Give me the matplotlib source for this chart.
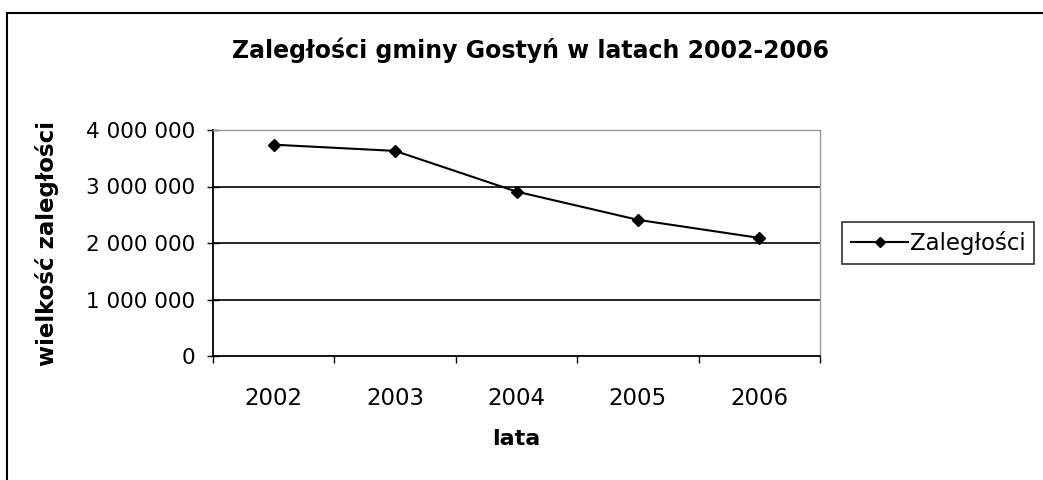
import matplotlib
matplotlib.use("Agg")
import matplotlib.pyplot as plt
import matplotlib.patches as patches
from matplotlib.ticker import FuncFormatter

# data
years = ["2002", "2003", "2004", "2005", "2006"]
zaleglosci = [3740000, 3630000, 2910000, 2410000, 2090000]
y_ticks = [0, 1000000, 2000000, 3000000, 4000000]

plt.rcParams['font.family'] = ['DejaVu Sans']

W, H = 1043, 480
fig = plt.figure(figsize=(W / 100, H / 100), dpi=100)

# plot area in pixel coords
left, right, top, bottom = 213, 820, 130, 356
ax = fig.add_axes([left / W, 1 - bottom / H, (right - left) / W, (bottom - top) / H])

x = list(range(len(years)))
ax.plot(x, zaleglosci, color="black", linewidth=1.5, marker="D", markersize=6,
        markerfacecolor="black", markeredgecolor="black", label="Zaległości", zorder=5)

ax.set_xlim(-0.5, len(years) - 0.5)
ax.set_ylim(0, 4000000)
ax.set_yticks(y_ticks)
ax.yaxis.set_major_formatter(FuncFormatter(lambda v, p: f"{int(v):,}".replace(",", " ")))
ax.set_xticks(x)
ax.set_xticklabels(years)
ax.set_xticks([i - 0.5 for i in range(len(years) + 1)], minor=True)
ax.tick_params(axis="x", which="major", length=0, pad=22, labelsize=16.5)
ax.tick_params(axis="x", which="minor", length=5, width=1, direction="out")
ax.tick_params(axis="y", which="major", length=8, width=1, direction="inout", labelsize=15.5, pad=9)

# gridlines
for v in y_ticks[1:-1]:
    ax.axhline(v, color="black", linewidth=1.2, zorder=1)

for side in ["top", "right"]:
    ax.spines[side].set_color("#999999")
    ax.spines[side].set_linestyle((0, (1, 1)))
    ax.spines[side].set_linewidth(1)
for side in ["left", "bottom"]:
    ax.spines[side].set_linewidth(1.3)

ax.set_xlabel("lata", fontsize=16, fontweight="bold", labelpad=14)
ax.set_ylabel("wielkość zaległości", fontsize=16.5, fontweight="bold", labelpad=19)

fig.text(530 / W, 1 - 50 / H, "Zaległości gminy Gostyń w latach 2002-2006",
         ha="center", va="center", fontsize=17, fontweight="bold")

leg = ax.legend(loc="center left", bbox_to_anchor=((842 - left) / (right - left), 0.5),
                frameon=True, fancybox=False, fontsize=16.5, handlelength=2.5,
                borderpad=0.4, handletextpad=0.05, borderaxespad=0)
leg.get_frame().set_edgecolor("black")
leg.get_frame().set_linewidth(1.2)
leg.legend_handles[0].set_markersize(5)

# outer chart border (right and bottom edges fall outside the picture)
fig.patches.append(patches.Rectangle((7 / W, -0.05), 1.1, 1.05 - 13 / H,
                                     transform=fig.transFigure, fill=False,
                                     edgecolor="black", linewidth=1.5))

fig.savefig("out.png", dpi=100)
